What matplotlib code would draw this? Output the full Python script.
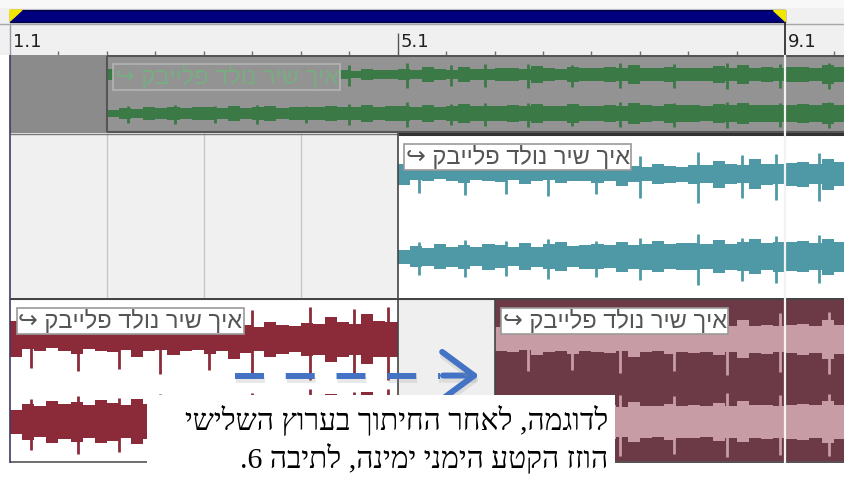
import numpy as np
import matplotlib.pyplot as plt
from matplotlib.patches import Polygon, FancyArrowPatch, Rectangle
import matplotlib.patheffects as pe

# ---- data ----
ruler_bars = [1, 5, 9]
ruler_labels = ["1.1", "5.1", "9.1"]
half_ticks = [1.5, 2, 2.5, 3, 3.5, 4, 4.5, 5.5, 6, 6.5, 7, 7.5, 8, 8.5, 9.5]
loop_start, loop_end = 1, 9
grid_bars = [2, 3, 4]

clip_title = "איך שיר נולד פלייבק"
green_start = 2       # clip in the first (muted) track
teal_start = 5        # clip in the second track
red_left = (1, 5)     # third track, part before the cut
red_right_start = 6   # third track, right part moved to bar 6
red_right_offset = 4  # song position where the cut was made

note_lines = ["לדוגמה, לאחר החיתוך בערוץ השלישי",
              "הוזז הקטע הימני ימינה, לתיבה 6."]

# song peak envelope, one value per 1/8 bar (fraction of channel half height)
song_upper = [0.42, 0.22, 0.28, 0.20, 0.26, 0.34, 0.22, 0.28,
              0.30, 0.24, 0.40, 0.26, 0.24, 0.36, 0.28, 0.25,
              0.34, 0.28, 0.46, 0.32, 0.28, 0.40, 0.34, 0.30,
              0.38, 0.36, 0.52, 0.40, 0.36, 0.58, 0.42, 0.40,
              0.44, 0.48, 0.40, 0.60, 0.46, 0.42, 0.56, 0.44,
              0.46, 0.52, 0.44, 0.66, 0.48, 0.45, 0.56, 0.48,
              0.50, 0.46, 0.60, 0.48, 0.70, 0.50, 0.54, 0.48,
              0.52, 0.58, 0.50, 0.72, 0.54, 0.56, 0.62, 0.52]
song_lower = [0.28, 0.42, 0.36, 0.48, 0.40, 0.46, 0.38, 0.50,
              0.44, 0.38, 0.52, 0.40, 0.48, 0.56, 0.42, 0.46,
              0.48, 0.44, 0.58, 0.46, 0.50, 0.60, 0.48, 0.52,
              0.52, 0.48, 0.64, 0.50, 0.56, 0.68, 0.52, 0.58,
              0.56, 0.60, 0.52, 0.70, 0.58, 0.56, 0.66, 0.58,
              0.58, 0.64, 0.56, 0.74, 0.60, 0.58, 0.68, 0.60,
              0.62, 0.58, 0.70, 0.60, 0.76, 0.62, 0.64, 0.60,
              0.64, 0.68, 0.62, 0.78, 0.64, 0.66, 0.72, 0.64]
spike_pos = [0.22, 0.7, 1.12, 1.55, 2.05, 2.5, 3.1, 3.55, 3.9,
             4.35, 4.8, 5.3, 5.85, 6.4, 6.95, 7.45]
spike_amp = [0.55, 0.62, 0.58, 0.66, 0.60, 0.70, 0.85, 0.72, 0.78,
             0.80, 0.76, 0.84, 0.80, 0.88, 0.82, 0.86]

# ---- layout ----
W, H = 844, 479
BAR_PX = 96.9
XMIN = 1 - 10 / BAR_PX
XMAX = 1 + (W - 10) / BAR_PX
STEP = 1 / 8


def rtl(s):
    # matplotlib has no bidi, so hand it the visual order
    return s[::-1]


fig = plt.figure(figsize=(W / 100, H / 100), dpi=100)
fig.patch.set_facecolor("white")


def px_axes(top, bottom):
    ax = fig.add_axes([0, 1 - bottom / H, 1, (bottom - top) / H])
    ax.set_xlim(XMIN, XMAX)
    for sp in ax.spines.values():
        sp.set_visible(False)
    ax.set_xticks([])
    ax.set_yticks([])
    ax.set_facecolor("white")
    return ax


def draw_wave(ax, start, song_from, song_to, gain, color, spike_gain=1.3, z=2):
    i0, i1 = int(round(song_from * 8)), int(round(song_to * 8))
    for center, env in ((1, song_upper), (-1, song_lower)):
        a = np.minimum(np.array(env[i0:i1]) * gain, 0.97)
        a = np.append(a, a[-1])
        x = start + np.arange(len(a)) * STEP
        ax.fill_between(x, center - a, center + a, step="post",
                        color=color, lw=0, zorder=z)
        for p, h in zip(spike_pos, spike_amp):
            if song_from <= p < song_to:
                hh = min(h * gain * spike_gain, 0.98)
                ax.vlines(start + p - song_from, center - hh, center + hh * 0.8,
                          color=color, lw=2, zorder=z)


def clip_label(ax, start, face, edge, tcolor, dy=-23):
    ax.annotate("↪ " + rtl(clip_title), xy=(start, 1), xycoords=("data", "axes fraction"),
                xytext=(8, dy), textcoords="offset pixels", ha="left", va="center",
                fontsize=17, color=tcolor, family=["Liberation Sans", "DejaVu Sans"],
                bbox=dict(boxstyle="square,pad=0.06", fc=face, ec=edge, lw=1.2), zorder=6)


# ---- ruler ----
ax_r = px_axes(0, 55)
ax_r.set_ylim(55, 0)
ax_r.set_facecolor("#f0f0f0")
ax_r.axhspan(0, 8, color="#f8f8f8", lw=0)
ax_r.barh(16, loop_end - loop_start, left=loop_start, height=12,
          color="#00007f", edgecolor="#000040", lw=1)
tri = 12 / BAR_PX
ax_r.add_patch(Polygon([(loop_start, 10), (loop_start + tri, 10), (loop_start, 21)],
                       closed=True, color="#f2e600", zorder=4))
ax_r.add_patch(Polygon([(loop_end - tri, 10), (loop_end, 10), (loop_end, 21)],
                       closed=True, color="#f2e600", zorder=4))
ax_r.axhline(23.5, color="#a8a8a8", lw=1)
ax_r.vlines(half_ticks, 51, 55, color="#707070", lw=1)
ax_r.vlines([ruler_bars[0]], 23, 55, color="#9a9aaa", lw=1)
ax_r.vlines([ruler_bars[1]], 33, 55, color="#555555", lw=1)
ax_r.vlines([ruler_bars[2]], 10, 55, color="#222222", lw=1.2)
for b, lab in zip(ruler_bars, ruler_labels):
    ax_r.annotate(lab, xy=(b, 33), xycoords="data", xytext=(3, 0),
                  textcoords="offset pixels", ha="left", va="top",
                  fontsize=13, color="#202020", family="DejaVu Sans")

# ---- track 1: muted, grey ----
ax_g = px_axes(55, 133)
ax_g.set_ylim(-2, 2)
ax_g.axvspan(ruler_bars[0], XMAX, color="#8b8b8b", lw=0)
ax_g.axvspan(green_start, XMAX, color="#939393", lw=0)
draw_wave(ax_g, green_start, 0, XMAX - green_start, 0.7, "#3b7a46", spike_gain=1.2)
ax_g.hlines([1.93, -1.93], green_start, XMAX, color="#555555", lw=1.5, zorder=3)
ax_g.vlines([green_start], -1.93, 1.93, color="#555555", lw=1.5, zorder=3)
clip_label(ax_g, green_start, "#939393", "#b4b4b4", "#78ad82", dy=-22)

# ---- track 2: teal ----
ax_t = px_axes(133, 298)
ax_t.set_ylim(-2, 2)
ax_t.axvspan(ruler_bars[0], teal_start, color="#f0f0f0", lw=0)
ax_t.vlines(grid_bars, -2, 2, color="#c6c6c6", lw=1)
draw_wave(ax_t, teal_start, 0, XMAX - teal_start, 0.62, "#4e99a5")
ax_t.hlines([1.97], teal_start, XMAX, color="#333333", lw=2.2, zorder=3)
ax_t.hlines([1.98], ruler_bars[0], teal_start, color="#777777", lw=1, zorder=3)
ax_t.vlines([teal_start], -2, 2, color="#444444", lw=1.2, zorder=3)
clip_label(ax_t, teal_start, "white", "#9a9a9a", "#555555", dy=-24)

# ---- track 3: red, cut and moved ----
ax_d = px_axes(298, 463)
ax_d.set_ylim(-2, 2)
ax_d.axvspan(red_left[0], red_left[1], color="white", lw=0)
ax_d.axvspan(red_left[1], red_right_start, color="#efefef", lw=0)
ax_d.axvspan(red_right_start, XMAX, color="#6c3a46", lw=0)
draw_wave(ax_d, red_left[0], 0, red_left[1] - red_left[0], 1.05, "#8b2b3a", spike_gain=1.2)
draw_wave(ax_d, red_right_start, red_right_offset,
          red_right_offset + XMAX - red_right_start, 0.65, "#c89ca5", spike_gain=1.5)
ax_d.hlines([1.97], ruler_bars[0], XMAX, color="#444444", lw=1.5, zorder=3)
ax_d.hlines([-1.97], ruler_bars[0], XMAX, color="#555555", lw=1.2, zorder=3)
ax_d.vlines([red_left[1], red_right_start], -2, 2, color="#444444", lw=1.2, zorder=3)
clip_label(ax_d, red_left[0], "white", "#9a9a9a", "#555555")
clip_label(ax_d, red_right_start, "white", "#9a9a9a", "#555555")

# loop-end line and left border through all tracks
for ax in (ax_g, ax_t, ax_d):
    ax.vlines([loop_end], -2, 2, color="#f2f2f2", lw=1.6, zorder=4)
    ax.vlines([ruler_bars[0]], -2, 2, color="#3c3c64", lw=1.2, zorder=4)

# dashed arrow showing the move
arrow_y = 0.12
dash_from, dash_to, head_to = 3.32, 5.44, 5.87
shadow = [pe.SimpleLineShadow(offset=(0.5, -3), shadow_color="#9a9a9a", alpha=0.22),
          pe.Normal()]
ax_d.plot([dash_from, dash_to], [arrow_y, arrow_y], color="#4472c4", lw=4.3,
          linestyle=(0, (4.85, 3.65)), solid_capstyle="butt", zorder=7,
          path_effects=shadow)
head = FancyArrowPatch((dash_to, arrow_y), (head_to, arrow_y),
                       arrowstyle="->,head_length=2.3,head_width=1.7",
                       color="#4472c4", lw=4.3, mutation_scale=10, zorder=7,
                       path_effects=shadow)
ax_d.add_patch(head)

# ---- note box ----
ax_n = fig.add_axes([0, 0, 1, 1])
ax_n.set_xlim(0, W)
ax_n.set_ylim(H, 0)
ax_n.set_axis_off()
ax_n.add_patch(Rectangle((147, 395), 468, 90, color="white", lw=0))
for i, line in enumerate(note_lines):
    ax_n.text(608, 420 + i * 38, rtl(line), ha="right", va="center",
              fontsize=21.5, color="black", family=["Liberation Serif", "DejaVu Sans"])

fig.savefig("out.png", dpi=100)
